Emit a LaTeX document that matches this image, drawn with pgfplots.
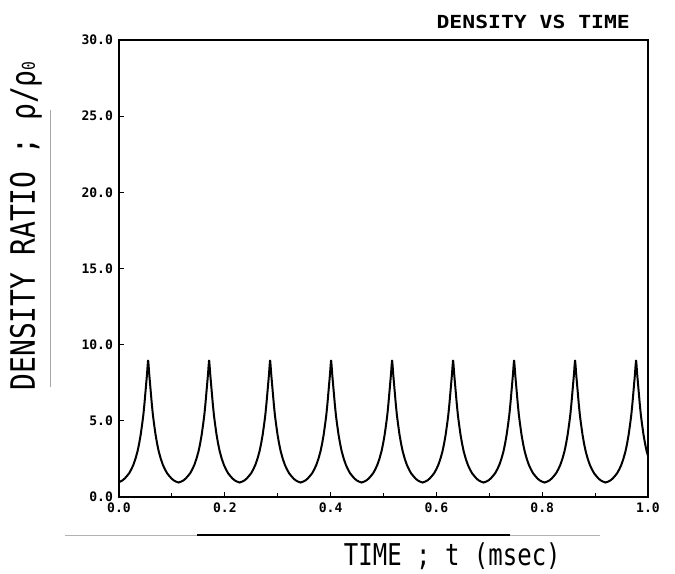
\documentclass[border=0pt]{standalone}
\usepackage{fontspec}
\setmainfont{DejaVu Sans Mono}
\usepackage{pgfplots}
\pgfplotsset{compat=1.18}

\begin{document}
\begin{tikzpicture}
\begin{axis}[
    width=396.75pt, height=342.75pt, scale only axis,
    xmin=0, xmax=1, ymin=0, ymax=30,
    xtick={0,0.2,0.4,0.6,0.8,1},
    minor xtick={0.1,0.3,0.5,0.7,0.9},
    ytick={0,5,10,15,20,25,30},
    xtick pos=bottom, ytick pos=left,
    tick align=inside,
    major tick length=4pt, minor tick length=3pt,
    axis line style={line width=1.1pt},
    tick style={black, line width=0.8pt},
    /pgf/number format/assume math mode=true,
    /pgf/number format/.cd, fixed, fixed zerofill, precision=1, /pgfplots/.cd,
    tick label style={font=\fontsize{9.8}{10}\selectfont\bfseries},
    yticklabel style={xshift=-1pt},
    xticklabel style={yshift=-1pt},
    clip=false,
]
\addplot[black, line width=1.5pt] coordinates {
(0,0.97)
(0.0030,1.02)(0.0070,1.10)(0.0110,1.22)(0.0150,1.38)(0.0190,1.55)(0.0230,1.80)(0.0270,2.10)(0.0310,2.50)(0.0350,3.00)(0.0380,3.50)(0.0410,4.10)(0.0440,4.85)(0.0460,5.40)(0.0480,6.10)(0.0500,6.90)(0.0520,7.70)(0.0530,8.10)(0.0540,8.60)(0.0550,9.00)
(0.0560,8.60)(0.0570,8.10)(0.0580,7.70)(0.0600,6.90)(0.0620,6.10)(0.0640,5.40)(0.0660,4.85)(0.0690,4.10)(0.0720,3.50)(0.0750,3.00)(0.0790,2.50)(0.0830,2.10)(0.0870,1.80)(0.0910,1.55)(0.0950,1.38)(0.0990,1.22)(0.1030,1.10)(0.1070,1.02)(0.1127,0.95)
(0.1183,1.02)(0.1223,1.10)(0.1263,1.22)(0.1303,1.38)(0.1343,1.55)(0.1383,1.80)(0.1423,2.10)(0.1463,2.50)(0.1503,3.00)(0.1533,3.50)(0.1563,4.10)(0.1593,4.85)(0.1613,5.40)(0.1633,6.10)(0.1653,6.90)(0.1673,7.70)(0.1683,8.10)(0.1693,8.60)(0.1703,9.00)
(0.1713,8.60)(0.1723,8.10)(0.1733,7.70)(0.1753,6.90)(0.1773,6.10)(0.1793,5.40)(0.1813,4.85)(0.1843,4.10)(0.1873,3.50)(0.1903,3.00)(0.1943,2.50)(0.1983,2.10)(0.2023,1.80)(0.2063,1.55)(0.2103,1.38)(0.2143,1.22)(0.2183,1.10)(0.2223,1.02)(0.2280,0.95)
(0.2336,1.02)(0.2376,1.10)(0.2416,1.22)(0.2456,1.38)(0.2496,1.55)(0.2536,1.80)(0.2576,2.10)(0.2616,2.50)(0.2656,3.00)(0.2686,3.50)(0.2716,4.10)(0.2746,4.85)(0.2766,5.40)(0.2786,6.10)(0.2806,6.90)(0.2826,7.70)(0.2836,8.10)(0.2846,8.60)(0.2856,9.00)
(0.2866,8.60)(0.2876,8.10)(0.2886,7.70)(0.2906,6.90)(0.2926,6.10)(0.2946,5.40)(0.2966,4.85)(0.2996,4.10)(0.3026,3.50)(0.3056,3.00)(0.3096,2.50)(0.3136,2.10)(0.3176,1.80)(0.3216,1.55)(0.3256,1.38)(0.3296,1.22)(0.3336,1.10)(0.3376,1.02)(0.3433,0.95)
(0.3489,1.02)(0.3529,1.10)(0.3569,1.22)(0.3609,1.38)(0.3649,1.55)(0.3689,1.80)(0.3729,2.10)(0.3769,2.50)(0.3809,3.00)(0.3839,3.50)(0.3869,4.10)(0.3899,4.85)(0.3919,5.40)(0.3939,6.10)(0.3959,6.90)(0.3979,7.70)(0.3989,8.10)(0.3999,8.60)(0.4009,9.00)
(0.4019,8.60)(0.4029,8.10)(0.4039,7.70)(0.4059,6.90)(0.4079,6.10)(0.4099,5.40)(0.4119,4.85)(0.4149,4.10)(0.4179,3.50)(0.4209,3.00)(0.4249,2.50)(0.4289,2.10)(0.4329,1.80)(0.4369,1.55)(0.4409,1.38)(0.4449,1.22)(0.4489,1.10)(0.4529,1.02)(0.4586,0.95)
(0.4642,1.02)(0.4682,1.10)(0.4722,1.22)(0.4762,1.38)(0.4802,1.55)(0.4842,1.80)(0.4882,2.10)(0.4922,2.50)(0.4962,3.00)(0.4992,3.50)(0.5022,4.10)(0.5052,4.85)(0.5072,5.40)(0.5092,6.10)(0.5112,6.90)(0.5132,7.70)(0.5142,8.10)(0.5152,8.60)(0.5162,9.00)
(0.5172,8.60)(0.5182,8.10)(0.5192,7.70)(0.5212,6.90)(0.5232,6.10)(0.5252,5.40)(0.5272,4.85)(0.5302,4.10)(0.5332,3.50)(0.5362,3.00)(0.5402,2.50)(0.5442,2.10)(0.5482,1.80)(0.5522,1.55)(0.5562,1.38)(0.5602,1.22)(0.5642,1.10)(0.5682,1.02)(0.5739,0.95)
(0.5795,1.02)(0.5835,1.10)(0.5875,1.22)(0.5915,1.38)(0.5955,1.55)(0.5995,1.80)(0.6035,2.10)(0.6075,2.50)(0.6115,3.00)(0.6145,3.50)(0.6175,4.10)(0.6205,4.85)(0.6225,5.40)(0.6245,6.10)(0.6265,6.90)(0.6285,7.70)(0.6295,8.10)(0.6305,8.60)(0.6315,9.00)
(0.6325,8.60)(0.6335,8.10)(0.6345,7.70)(0.6365,6.90)(0.6385,6.10)(0.6405,5.40)(0.6425,4.85)(0.6455,4.10)(0.6485,3.50)(0.6515,3.00)(0.6555,2.50)(0.6595,2.10)(0.6635,1.80)(0.6675,1.55)(0.6715,1.38)(0.6755,1.22)(0.6795,1.10)(0.6835,1.02)(0.6892,0.95)
(0.6948,1.02)(0.6988,1.10)(0.7028,1.22)(0.7068,1.38)(0.7108,1.55)(0.7148,1.80)(0.7188,2.10)(0.7228,2.50)(0.7268,3.00)(0.7298,3.50)(0.7328,4.10)(0.7358,4.85)(0.7378,5.40)(0.7398,6.10)(0.7418,6.90)(0.7438,7.70)(0.7448,8.10)(0.7458,8.60)(0.7468,9.00)
(0.7478,8.60)(0.7488,8.10)(0.7498,7.70)(0.7518,6.90)(0.7538,6.10)(0.7558,5.40)(0.7578,4.85)(0.7608,4.10)(0.7638,3.50)(0.7668,3.00)(0.7708,2.50)(0.7748,2.10)(0.7788,1.80)(0.7828,1.55)(0.7868,1.38)(0.7908,1.22)(0.7948,1.10)(0.7988,1.02)(0.8045,0.95)
(0.8101,1.02)(0.8141,1.10)(0.8181,1.22)(0.8221,1.38)(0.8261,1.55)(0.8301,1.80)(0.8341,2.10)(0.8381,2.50)(0.8421,3.00)(0.8451,3.50)(0.8481,4.10)(0.8511,4.85)(0.8531,5.40)(0.8551,6.10)(0.8571,6.90)(0.8591,7.70)(0.8601,8.10)(0.8611,8.60)(0.8621,9.00)
(0.8631,8.60)(0.8641,8.10)(0.8651,7.70)(0.8671,6.90)(0.8691,6.10)(0.8711,5.40)(0.8731,4.85)(0.8761,4.10)(0.8791,3.50)(0.8821,3.00)(0.8861,2.50)(0.8901,2.10)(0.8941,1.80)(0.8981,1.55)(0.9021,1.38)(0.9061,1.22)(0.9101,1.10)(0.9141,1.02)(0.9198,0.95)
(0.9254,1.02)(0.9294,1.10)(0.9334,1.22)(0.9374,1.38)(0.9414,1.55)(0.9454,1.80)(0.9494,2.10)(0.9534,2.50)(0.9574,3.00)(0.9604,3.50)(0.9634,4.10)(0.9664,4.85)(0.9684,5.40)(0.9704,6.10)(0.9724,6.90)(0.9744,7.70)(0.9754,8.10)(0.9764,8.60)(0.9774,9.00)
(0.9784,8.60)(0.9794,8.10)(0.9804,7.70)(0.9824,6.90)(0.9844,6.10)(0.9864,5.40)(0.9884,4.85)(0.9914,4.10)(0.9944,3.50)(0.9974,3.00)(1.0000,2.70)
};
% title and axis labels
\node[font=\fontsize{15}{15}\selectfont\bfseries] at (rel axis cs:0.783,1.0405)
    {\scalebox{1.07}[0.9]{DENSITY VS TIME}};
\node[font=\fontsize{18}{18}\selectfont] at (rel axis cs:0.63,-0.129)
    {\scalebox{1}[1.25]{TIME ; t (msec)}};
\node[font=\fontsize{21}{21}\selectfont, rotate=90] at (rel axis cs:-0.176,0.593)
    {\scalebox{1}[1.2]{DENSITY RATIO ; ρ/ρ{\fontsize{11}{11}\selectfont 0}}};
% pen underlines left on the scanned sheet
\draw[gray!60, line width=0.5pt] (rel axis cs:-0.102,-0.0832) -- (rel axis cs:0.909,-0.0832);
\draw[black, line width=1.2pt] (rel axis cs:0.147,-0.0832) -- (rel axis cs:0.739,-0.0832);
\draw[gray!70, line width=0.6pt] (rel axis cs:-0.1304,0.241) -- (rel axis cs:-0.1304,0.847);
\coordinate (bl) at (rel axis cs:-0.225,-0.1685);
\coordinate (tr) at (rel axis cs:1.051,1.0875);
\end{axis}
\pgfresetboundingbox
\path (bl) rectangle (tr);
\end{tikzpicture}
\end{document}
